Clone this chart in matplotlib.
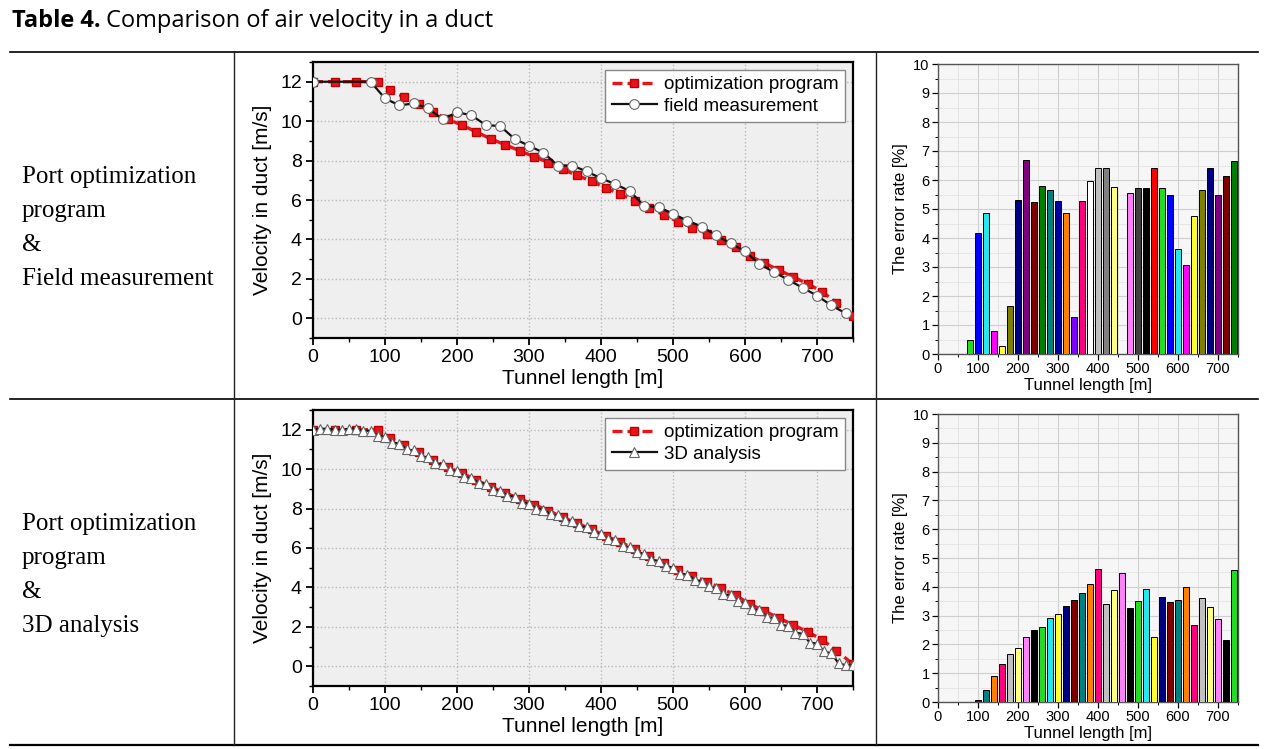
import matplotlib
matplotlib.use("Agg")
import matplotlib.pyplot as plt
from matplotlib.lines import Line2D
from matplotlib.ticker import MultipleLocator

W, H = 1275, 749

# velocity from the port optimization program (same run in both rows)
opt_x = [0, 30, 60, 90, 107, 127, 147, 167, 187, 207, 227, 247, 267, 287, 307, 327, 347,
         367, 387, 407, 427, 447, 467, 487, 507, 527, 547, 567, 587, 607, 627, 647, 667,
         687, 707, 727, 750]
opt_v = [12.0, 12.0, 12.0, 12.0, 11.6, 11.2, 10.85, 10.45, 10.1, 9.8, 9.45, 9.1, 8.8, 8.5,
         8.2, 7.9, 7.55, 7.25, 6.95, 6.6, 6.3, 5.95, 5.6, 5.25, 4.9, 4.6, 4.3, 3.95, 3.6,
         3.15, 2.8, 2.45, 2.1, 1.75, 1.35, 0.8, 0.1]

# field measurement
field_x = [0, 80, 100, 120, 140, 160, 180, 200, 220, 240, 260, 280, 300, 320, 340, 360, 380,
           400, 420, 440, 460, 480, 500, 520, 540, 560, 580, 600, 620, 640, 660, 680, 700,
           720, 740]
field_v = [12.0, 12.0, 11.15, 10.8, 10.9, 10.65, 10.1, 10.45, 10.3, 9.8, 9.75, 9.1, 8.75, 8.4,
           7.75, 7.75, 7.45, 7.1, 6.8, 6.45, 5.7, 5.65, 5.3, 4.95, 4.65, 4.2, 3.8, 3.4, 2.75,
           2.35, 1.95, 1.55, 1.15, 0.65, 0.25]

# 3D analysis
cfd_x = [0, 10, 20, 30, 40, 50, 60, 70, 80, 90, 100, 110, 120, 130, 140, 150, 160, 170, 180,
         190, 200, 210, 220, 230, 240, 250, 260, 270, 280, 290, 300, 310, 320, 330, 340, 350,
         360, 370, 380, 390, 400, 410, 420, 430, 440, 450, 460, 470, 480, 490, 500, 510, 520,
         530, 540, 550, 560, 570, 580, 590, 600, 610, 620, 630, 640, 650, 660, 670, 680, 690,
         700, 710, 720, 730, 740, 750]
cfd_v = [12.0, 12.05, 12.05, 12.0, 12.0, 12.05, 12.05, 11.95, 11.95, 11.7, 11.65, 11.35, 11.3,
         11.0, 10.95, 10.65, 10.6, 10.3, 10.25, 9.95, 9.9, 9.6, 9.55, 9.3, 9.25, 8.95, 8.9,
         8.65, 8.6, 8.3, 8.25, 8.0, 7.95, 7.7, 7.65, 7.4, 7.35, 7.1, 7.05, 6.8, 6.7, 6.45, 6.4,
         6.1, 6.05, 5.8, 5.7, 5.4, 5.35, 5.1, 5.0, 4.7, 4.65, 4.4, 4.3, 4.05, 3.95, 3.65, 3.6,
         3.3, 3.2, 2.9, 2.85, 2.5, 2.45, 2.1, 2.05, 1.7, 1.65, 1.2, 1.15, 0.75, 0.65, 0.15,
         0.05, 0.05]

# error rate, optimization program vs field measurement
err1_x = [80, 100, 120, 140, 160, 180, 200, 220, 240, 260, 280, 300, 320, 340, 360, 380, 400,
          420, 440, 480, 500, 520, 540, 560, 580, 600, 620, 640, 660, 680, 700, 720, 740]
err1 = [0.5, 4.18, 4.85, 0.8, 0.27, 1.65, 5.32, 6.7, 5.25, 5.78, 5.65, 5.28, 4.87, 1.28, 5.28,
        5.97, 6.4, 6.4, 5.77, 5.55, 5.72, 5.72, 6.4, 5.72, 5.5, 3.63, 3.08, 4.77, 5.65, 6.42,
        5.5, 6.15, 6.65]

# error rate, optimization program vs 3D analysis
err2_x = [100, 120, 140, 160, 180, 200, 220, 240, 260, 280, 300, 320, 340, 360, 380, 400, 420,
          440, 460, 480, 500, 520, 540, 560, 580, 600, 620, 640, 660, 680, 700, 720, 740]
err2 = [0.08, 0.4, 0.89, 1.31, 1.66, 1.87, 2.25, 2.49, 2.61, 2.9, 3.06, 3.34, 3.53, 3.78, 4.1,
        4.63, 3.4, 3.88, 4.49, 3.27, 3.5, 3.94, 2.24, 3.66, 3.48, 3.55, 3.99, 2.67, 3.6, 3.31,
        2.89, 2.15, 4.58]

# Origin default colour increment list
ORIGIN = ['#000000', '#ff0000', '#22dd22', '#0000ff', '#22e8f0', '#ff00ff', '#ffff30', '#808000',
          '#000080', '#800080', '#800000', '#008000', '#008080', '#0000a0', '#ff8000', '#8000ff',
          '#ff0080', '#ffffff', '#c0c0c0', '#808080', '#ffff80', '#80ffff', '#ff80ff', '#404040']

SANS = 'Liberation Sans'


def px_axes(fig, left, top, right, bottom):
    return fig.add_axes([left / W, 1 - bottom / H, (right - left) / W, (bottom - top) / H])


def velocity_panel(ax, other_x, other_v, other_label, other_marker, ms):
    ax.set_facecolor('#efefef')
    ax.plot(opt_x, opt_v, color='#e8141c', ls='--', dashes=(3, 1.5), lw=2.4, marker='s',
            ms=6, mec='#c00000', label='optimization program', zorder=3)
    ax.plot(other_x, other_v, color='#111111', lw=1.6, marker=other_marker, ms=ms,
            mfc='white', mec='#666666', mew=0.8, label=other_label, zorder=4)
    ax.set_xlim(0, 750)
    ax.set_ylim(-1, 13)
    ax.xaxis.set_major_locator(MultipleLocator(100))
    ax.xaxis.set_minor_locator(MultipleLocator(50))
    ax.yaxis.set_major_locator(MultipleLocator(2))
    ax.yaxis.set_minor_locator(MultipleLocator(1))
    ax.grid(True, ls=':', color='#b8b8b8', lw=1.0)
    ax.tick_params(which='major', direction='out', length=5, width=1.3, labelsize=14, pad=3)
    ax.tick_params(which='minor', direction='out', length=3, width=1.0)
    for lab in ax.get_xticklabels() + ax.get_yticklabels():
        lab.set_family(SANS)
    for s in ax.spines.values():
        s.set_linewidth(1.6)
    ax.set_xlabel('Tunnel length [m]', fontsize=15, family=SANS, labelpad=2)
    ax.set_ylabel('Velocity in duct [m/s]', fontsize=15, family=SANS, labelpad=6)
    leg = ax.legend(loc='upper right', prop={'family': SANS, 'size': 13.5},
                    fancybox=False, framealpha=1, edgecolor='#888888', borderpad=0.35,
                    handlelength=2.4, handletextpad=0.4, labelspacing=0.25,
                    borderaxespad=0.4)
    leg.get_frame().set_linewidth(1.0)


def error_panel(ax, xs, vals, colors):
    ax.set_facecolor('#f6f6f6')
    ax.bar(xs, vals, width=15, color=colors, edgecolor='black', linewidth=0.7, zorder=3)
    ax.set_xlim(0, 750)
    ax.set_ylim(0, 10)
    ax.xaxis.set_major_locator(MultipleLocator(100))
    ax.xaxis.set_minor_locator(MultipleLocator(50))
    ax.yaxis.set_major_locator(MultipleLocator(1))
    ax.yaxis.set_minor_locator(MultipleLocator(0.5))
    ax.grid(True, which='major', color='#cfcfcf', lw=0.8, zorder=0)
    ax.grid(True, which='minor', color='#e2e2e2', lw=0.6, zorder=0)
    ax.set_axisbelow(True)
    ax.tick_params(which='major', direction='out', length=4, width=0.9, labelsize=10.5, pad=2)
    ax.tick_params(which='minor', direction='out', length=2, width=0.7)
    for lab in ax.get_xticklabels() + ax.get_yticklabels():
        lab.set_family(SANS)
    for s in ax.spines.values():
        s.set_linewidth(1.0)
        s.set_color('#555555')
    ax.set_xlabel('Tunnel length [m]', fontsize=12, family=SANS, labelpad=1)
    ax.set_ylabel('The error rate [%]', fontsize=12, family=SANS, labelpad=4)


fig = plt.figure(figsize=(W / 100, H / 100), dpi=100)

# title: bold "Table 4." followed by regular text
renderer = fig.canvas.get_renderer()
t1 = fig.text(12 / W, 1 - 21 / H, 'Table 4.', fontsize=17, fontweight='bold',
              family='Open Sans', va='center', ha='left')
bb = t1.get_window_extent(renderer)
fig.text((bb.x1 + 5) / W, 1 - 21 / H, 'Comparison of air velocity in a duct', fontsize=17,
         family='Open Sans', va='center', ha='left')


# table rules
def hline(y, x0, x1, lw):
    fig.add_artist(Line2D([x0 / W, x1 / W], [1 - y / H, 1 - y / H], color='black', lw=lw,
                          transform=fig.transFigure))


def vline(x, y0, y1, lw):
    fig.add_artist(Line2D([x / W, x / W], [1 - y0 / H, 1 - y1 / H], color='#222222', lw=lw,
                          transform=fig.transFigure))


hline(52, 10, 1258, 1.2)
hline(399, 10, 1258, 1.2)
hline(745, 10, 1258, 1.6)
vline(234, 52, 745, 1.0)
vline(876, 52, 745, 1.0)

# row headings
row1 = ['Port optimization', 'program', '&', 'Field measurement']
row2 = ['Port optimization', 'program', '&', '3D analysis']
for i, line in enumerate(row1):
    fig.text(22 / W, 1 - (177 + 34 * i) / H, line, fontsize=18, family='Liberation Serif',
             va='center', ha='left')
for i, line in enumerate(row2):
    fig.text(22 / W, 1 - (524 + 34 * i) / H, line, fontsize=18, family='Liberation Serif',
             va='center', ha='left')

ax1 = px_axes(fig, 313, 62, 853, 338)
velocity_panel(ax1, field_x, field_v, 'field measurement', 'o', 7)

ax2 = px_axes(fig, 313, 410, 853, 686)
velocity_panel(ax2, cfd_x, cfd_v, '3D analysis', '^', 6.5)

ax3 = px_axes(fig, 938, 64, 1238, 354)
error_panel(ax3, err1_x, err1, [ORIGIN[((x - 40) // 20) % 24] for x in err1_x])

ax4 = px_axes(fig, 938, 414, 1238, 702)
error_panel(ax4, err2_x, err2, [ORIGIN[(10 + 2 * ((x - 100) // 20)) % 24] for x in err2_x])

fig.savefig('out.png', dpi=100)
